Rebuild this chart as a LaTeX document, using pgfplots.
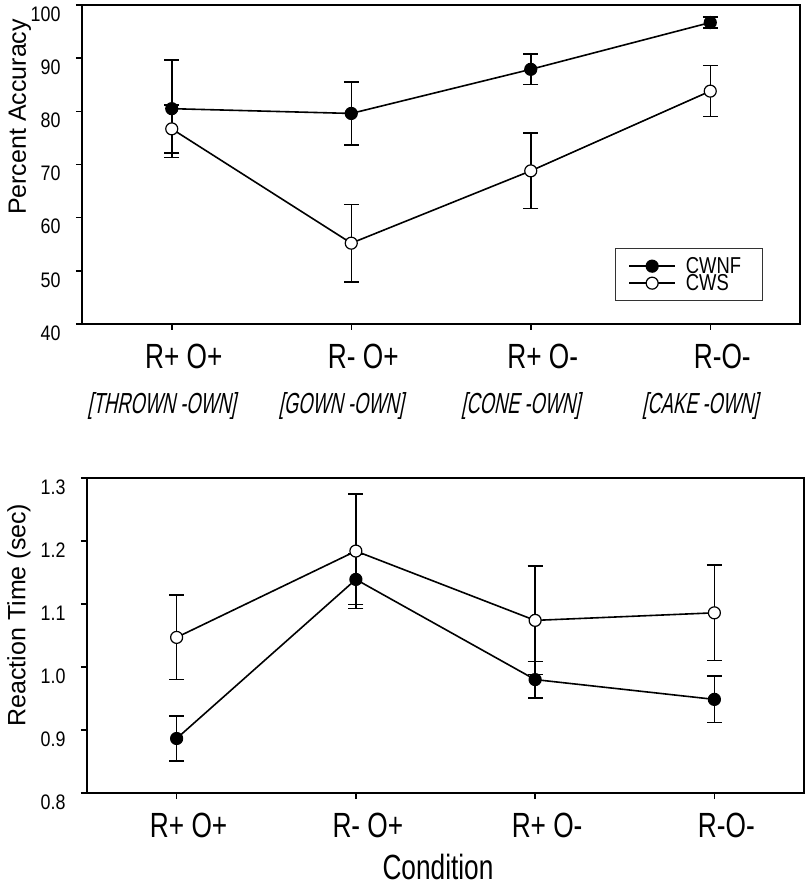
\documentclass[border=0pt]{standalone}
\usepackage{pgfplots}
\pgfplotsset{compat=1.18}
\usepackage{fontspec}
\setmainfont{Liberation Sans}
\newfontfamily\numfont[FakeStretch=0.85]{Liberation Sans}
\newfontfamily\catfont[FakeStretch=0.75]{Liberation Sans}
\newfontfamily\brkfont[FakeStretch=0.63,FakeSlant=0.2]{Liberation Sans}
\newfontfamily\legfont[FakeStretch=0.8]{Liberation Sans}
\newcommand\brk[1]{\fontsize{29}{29}\brkfont #1}
\newcommand\leg[1]{\fontsize{23}{23}\legfont #1\hspace*{7pt}}
\begin{document}
\begin{tikzpicture}
\path[use as bounding box] (0pt,0pt) rectangle (810pt,886pt);
\pgfplotsset{
 common/.style={
  scale only axis, xmin=-0.5, xmax=3.5,
  xtick={0,1,2,3}, xticklabels={R+ O+, R- O+, R+ O-, R-O-},
  tick pos=left, tick align=outside, major tick length=6pt,
  axis line style={line width=1.6pt},
  tick style={line width=1.5pt, black},
  /pgf/number format/assume math mode=true,
  yticklabel style={font=\fontsize{21}{21}\numfont, anchor=east, yshift=-9pt, xshift=-12pt},
  xticklabel style={font=\fontsize{35}{35}\catfont, anchor=center, yshift=-26pt, xshift=12pt},
  ylabel style={font=\fontsize{25}{25}\selectfont, anchor=center},
  legend image code/.code={\draw[mark repeat=2,mark phase=2,##1] plot coordinates {(0pt,0pt) (23pt,0pt) (46pt,0pt)};},
 },
 cwnf/.style={black, line width=1.6pt, mark=*, mark size=6pt, mark options={fill=black, line width=1.2pt},
   error bars/.cd, y dir=both, y explicit, error bar style={line width=1.5pt}, error mark options={rotate=90, mark size=7.5pt, line width=1.5pt}},
 cws/.style={black, line width=1.6pt, mark=*, mark size=6pt, mark options={fill=white, line width=1.2pt},
   error bars/.cd, y dir=both, y explicit, error bar style={line width=1.5pt}, error mark options={rotate=90, mark size=7.5pt, line width=1.5pt}},
}
\begin{axis}[common, at={(82pt,562pt)}, anchor=south west, width=718pt, height=319pt,
  ymin=40, ymax=100, ytick={40,50,60,70,80,90,100},
  ylabel={Percent Accuracy}, ylabel style={at={(axis description cs:-0.0864,0.649)}},
  extra x ticks={0,1,2,3},
  extra x tick labels={{\brk{[THROWN -OWN]}}, {\brk{[GOWN -OWN]}}, {\brk{[CONE -OWN]}}, {\brk{[CAKE -OWN]}}},
  extra x tick style={major tick length=0pt, tick label style={yshift=-56pt, xshift=-22pt}},
  legend style={at={(0.742,0.238)}, anchor=north west, draw=black!80, line width=1.2pt,
    inner xsep=13pt, inner ysep=9pt, row sep=0pt, column sep=9pt,
    nodes={inner sep=1pt, text height=15pt, text depth=0pt}},
  legend cell align=left]
\addplot[cwnf] coordinates {(0,80.5) +- (0,9.2) (1,79.6) +- (0,5.9) (2,87.9) +- (0,2.85) (3,96.7) +- (0,1.05)};
\addlegendentry{\leg{CWNF}}
\addplot[cws] coordinates {(0,76.7) +- (0,4.5) (1,55.2) +- (0,7.3) (2,68.8) +- (0,7.1) (3,83.8) +- (0,4.8)};
\addlegendentry{\leg{CWS}}
\end{axis}
\begin{axis}[common, at={(87pt,93pt)}, anchor=south west, width=717pt, height=315pt,
  ymin=0.8, ymax=1.3, ytick={0.8,0.9,1.0,1.1,1.2,1.3},
  yticklabel style={/pgf/number format/.cd, fixed, fixed zerofill, precision=1},
  ylabel={Reaction Time (sec)}, ylabel style={at={(axis description cs:-0.0948,0.565)}},
  xlabel={Condition}, xlabel style={font=\fontsize{35}{35}\catfont, anchor=center, inner sep=0pt, at={(axis description cs:0.4895,-0.235)}}]
\addplot[cwnf] coordinates {(0,0.8865) +- (0,0.036) (1,1.139) +- (0,0.040) (2,0.980) +- (0,0.029) (3,0.9486) +- (0,0.037)};
\addplot[cws] coordinates {(0,1.047) +- (0,0.067) (1,1.184) +- (0,0.091) (2,1.074) +- (0,0.086) (3,1.086) +- (0,0.076)};
\end{axis}
\end{tikzpicture}
\end{document}
